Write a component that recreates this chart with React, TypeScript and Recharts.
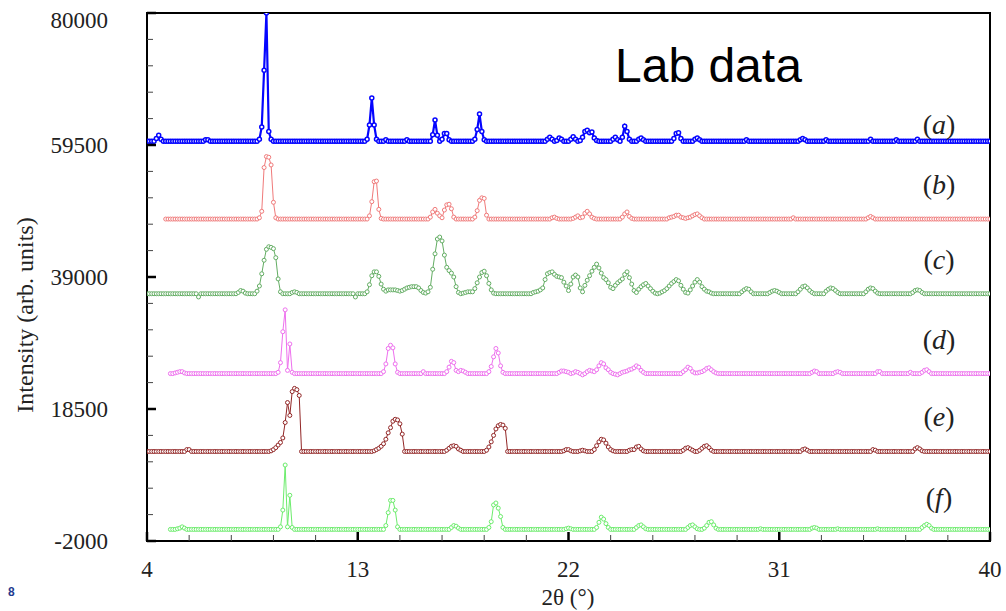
import { LineChart, Line, XAxis, YAxis, ReferenceArea } from "recharts";

const _ = null;

// 2θ scan grid: 4.0° … 40.0° in 0.1° steps
const twoTheta = Array.from({ length: 361 }, (_v, i) => (40 + i) / 10);

const sampleIds = ["a", "b", "c", "d", "e", "f"];

// vertical stacking offset of each pattern (counts)
const stackOffsets = [60100, 48000, 36400, 24000, 11900, -200];

// intensity above background, one row per degree (x.0 … x.9)
const patternA = [
  0, 0, 0, 0, 400, 900, 300, 0, 0, 0, // 4
  0, 0, 0, 0, 0, 0, 0, 0, 0, 0,
  0, 0, 0, 0, 0, 200, 200, 0, 0, 0,
  0, 0, 0, 0, 0, 0, 0, 0, 0, 0,
  0, 0, 0, 0, 0, 0, 0, 0, 300, 2200,
  11000, 19900, 1500, 300, 0, 0, 0, 0, 0, 0, // 9
  0, 0, 0, 0, 0, 0, 0, 0, 0, 0,
  0, 0, 0, 0, 0, 0, 0, 0, 0, 0,
  0, 0, 0, 0, 0, 0, 0, 0, 0, 0,
  0, 0, 0, 0, 300, 2500, 6700, 2500, 300, 0,
  0, 0, 200, 0, 0, 0, 0, 0, 0, 0, // 14
  0, 200, 0, 0, 0, 0, 0, 0, 0, 0,
  0, 0, 1000, 3300, 900, 0, 300, 1200, 1200, 200,
  0, 0, 0, 0, 0, 0, 0, 0, 0, 0,
  300, 1800, 4200, 1500, 200, 0, 0, 0, 0, 0,
  0, 0, 0, 0, 0, 0, 0, 0, 0, 0, // 19
  0, 0, 0, 0, 0, 0, 0, 0, 0, 0,
  0, 300, 600, 300, 0, 100, 500, 300, 0, 0,
  0, 300, 700, 300, 0, 100, 600, 1500, 1700, 1300,
  1400, 500, 100, 0, 0, 0, 0, 0, 0, 300,
  600, 200, 0, 600, 2300, 1500, 300, 0, 0, 0, // 24
  300, 500, 200, 0, 0, 0, 0, 0, 0, 0,
  0, 0, 0, 0, 0, 400, 1200, 1300, 400, 0,
  0, 0, 0, 0, 300, 500, 200, 0, 0, 0,
  0, 0, 0, 0, 0, 0, 0, 0, 0, 0,
  0, 0, 0, 0, 0, 0, 200, 0, 0, 0, // 29
  0, 0, 0, 0, 0, 0, 0, 0, 0, 0,
  0, 0, 0, 0, 0, 0, 0, 0, 0, 200,
  400, 200, 0, 0, 0, 0, 0, 0, 0, 0,
  200, 0, 0, 0, 0, 0, 0, 0, 0, 0,
  0, 0, 0, 0, 0, 0, 0, 0, 0, 300, // 34
  0, 0, 0, 0, 0, 0, 0, 0, 0, 0,
  200, 0, 0, 0, 0, 0, 0, 0, 0, 300,
  0, 0, 0, 0, 0, 0, 0, 0, 0, 0,
  0, 0, 0, 0, 0, 0, 0, 0, 0, 0,
  0, 0, 0, 0, 0, 0, 0, 0, 0, 0, // 39
  0,
];

const patternB = [
  _, _, _, _, _, _, _, _, 0, 0, // 4
  0, 0, 0, 0, 0, 0, 0, 0, 0, 0,
  0, 0, 0, 0, 0, 0, 0, 0, 0, 0,
  0, 0, 0, 0, 0, 0, 0, 0, 0, 0,
  0, 0, 0, 0, 0, 0, 0, 0, 200, 1200,
  8000, 9700, 9600, 8400, 2600, 200, 0, 0, 0, 0, // 9
  0, 0, 0, 0, 0, 0, 0, 0, 0, 0,
  0, 0, 0, 0, 0, 0, 0, 0, 0, 0,
  0, 0, 0, 0, 0, 0, 0, 0, 0, 0,
  0, 0, 0, 0, 0, 500, 2700, 5800, 5900, 1500,
  100, 0, 0, 0, 0, 0, 0, 0, 0, 0, // 14
  0, 0, 0, 0, 0, 0, 0, 0, 0, 0,
  0, 300, 1100, 1500, 900, 500, 200, 1400, 2200, 2300,
  1600, 300, 0, 0, 0, 0, 0, 0, 0, 0,
  300, 1300, 2900, 3300, 3200, 600, 0, 0, 0, 0,
  0, 0, 0, 0, 0, 0, 0, 0, 0, 0, // 19
  0, 0, 0, 0, 0, 0, 0, 0, 0, 0,
  0, 0, 0, 200, 300, 100, 0, 0, 0, 0,
  0, 0, 100, 300, 500, 200, 300, 900, 1200, 800,
  300, 100, 0, 0, 0, 0, 0, 0, 0, 0,
  0, 0, 0, 300, 800, 1100, 400, 100, 0, 0, // 24
  0, 0, 0, 0, 0, 0, 0, 0, 0, 0,
  0, 0, 0, 200, 300, 400, 600, 600, 300, 200,
  100, 200, 300, 500, 700, 800, 500, 200, 0, 0,
  0, 0, 0, 0, 0, 0, 0, 0, 0, 0,
  0, 0, 0, 0, 0, 0, 0, 0, 0, 0, // 29
  0, 0, 0, 0, 0, 0, 0, 0, 0, 0,
  0, 0, 0, 0, 0, 0, 200, 0, 0, 0,
  0, 0, 0, 0, 0, 0, 0, 0, 0, 0,
  0, 0, 0, 0, 0, 0, 0, 0, 0, 0,
  0, 0, 0, 0, 0, 0, 0, 0, 200, 400, // 34
  200, 0, 0, 0, 0, 0, 0, 0, 0, 0,
  0, 0, 0, 0, 0, 0, 0, 0, 0, 0,
  0, 0, 0, 0, 0, 0, 0, 0, 0, 0,
  0, 0, 0, 0, 0, 0, 0, 0, 0, 0,
  0, 0, 0, 0, 0, 0, 0, 0, 0, 0, // 39
  0,
];

const patternC = [
  0, 0, 0, 0, 0, 0, 0, 0, 0, 0, // 4
  0, 0, 0, 0, 0, 0, 0, 0, 0, 0,
  0, 0, -500, 0, 0, 0, 0, 0, 0, 0,
  0, 0, 0, 0, 0, 0, 0, 0, 0, 200,
  500, 400, 100, 0, 0, 0, 0, 400, 1200, 3100,
  5200, 6900, 7300, 7200, 7000, 5600, 2300, 300, 0, 0, // 9
  0, 0, 200, 300, 200, 0, 0, 0, 0, 0,
  0, 0, 0, 0, 0, 0, 0, 0, 0, 0,
  0, 0, 0, 0, 0, 0, 0, 0, 0, -500,
  0, 0, 0, 0, 300, 1400, 2800, 3400, 3400, 2700,
  1500, 700, 400, 600, 600, 600, 600, 500, 400, 500, // 14
  700, 900, 1000, 1100, 1100, 1100, 900, 500, 200, 100,
  300, 1000, 3800, 6200, 8500, 8800, 8200, 6000, 4100, 3600,
  3200, 2600, 1100, 200, 0, 100, 200, 300, 300, 300,
  800, 1700, 2600, 3300, 3500, 2800, 1600, 600, 100, 0,
  0, 0, 0, 0, 0, 0, 0, 0, 0, 0, // 19
  0, 0, 0, 0, 0, 200, 300, 400, 600, 900,
  2200, 3100, 3300, 3400, 3000, 2700, 2600, 2500, 1800, 1200,
  500, 1500, 2600, 2900, 2600, 900, 300, 1300, 2100, 2800,
  3500, 4100, 4600, 4000, 3200, 2500, 2200, 1700, 1000, 800,
  1300, 1700, 2000, 2300, 3000, 3400, 2500, 1500, 500, 200, // 24
  700, 1100, 1400, 1600, 1200, 800, 400, 100, 0, 100,
  300, 500, 800, 1200, 1600, 1900, 2200, 2000, 1300, 700,
  200, 100, 600, 1200, 1800, 2200, 1800, 1100, 700, 400,
  300, 100, 0, 0, 0, 0, 0, 0, 0, 0,
  0, 0, 0, 0, 300, 600, 800, 700, 300, 0, // 29
  0, 0, 0, 0, 0, 0, 200, 400, 500, 400,
  200, 0, 0, 0, 0, 0, 0, 0, 300, 700,
  1100, 1200, 900, 500, 200, 0, 0, 0, 0, 0,
  400, 700, 900, 800, 500, 200, 0, 0, 0, 0,
  0, 0, 0, 0, 0, 0, 0, 300, 700, 900, // 34
  800, 400, 100, 0, 0, 0, 0, 0, 0, 0,
  0, 0, 0, 0, 0, 0, 0, 200, 500, 600,
  500, 200, 0, 0, 0, 0, 0, 0, 0, 0,
  0, 0, 0, 0, 0, 0, 0, 0, 0, 0,
  0, 0, 0, 0, 0, 0, 0, 0, 0, 0, // 39
  0,
];

const patternD = [
  _, _, _, _, _, _, _, _, _, _, // 4
  0, 0, 100, 200, 300, 300, 100, 0, 0, 0,
  0, 0, 0, 0, 0, 0, 0, 0, 0, 0,
  0, 0, 0, 0, 0, 0, 0, 0, 0, 0,
  0, 0, 0, 0, 0, 0, 0, 0, 0, 0,
  0, 0, 0, 0, 0, 0, 200, 1700, 6500, 9900, // 9
  500, 4600, 200, 0, 0, 0, 0, 0, 0, 0,
  0, 0, 0, 0, 0, 0, 0, 0, 0, 0,
  0, 0, 0, 0, 0, 0, 0, 0, 0, 0,
  0, 0, 0, 0, 0, 0, 0, 0, 0, 0,
  0, 300, 1500, 3900, 4400, 4000, 1500, 200, 0, 0, // 14
  0, 0, 0, 0, 0, 0, 0, 0, 300, 0,
  0, 0, 0, 0, 0, 0, 0, 0, 300, 1000,
  1900, 1700, 500, 300, 500, 400, 200, 0, 0, 0,
  0, 0, 0, 0, 0, 0, 300, 1100, 2600, 3900,
  3200, 1200, 200, 0, 0, 0, 0, 0, 0, 0, // 19
  0, 0, 0, 0, 0, 0, 0, 0, 0, 0,
  0, 0, 0, 0, 0, 0, 200, 400, 400, 300,
  200, 0, 100, 300, 200, 0, -200, 0, 300, 500,
  400, 300, 600, 1200, 1700, 1500, 900, 600, 200, 0,
  -100, -200, 0, 200, 300, 400, 600, 700, 900, 1200, // 24
  1000, 500, 200, 0, 0, 0, 0, 0, 0, 0,
  0, 0, 0, 0, 0, 0, 0, 0, 0, 300,
  600, 1000, 800, 300, 100, 100, 200, 300, 500, 800,
  900, 600, 300, 100, 0, 0, 0, 0, 0, 0,
  0, 0, 0, 0, 0, 0, 0, 0, 0, 0, // 29
  0, 0, 0, 0, 0, 0, 0, 0, 0, 0,
  0, 0, 0, 0, 0, 0, 0, 0, 0, 0,
  0, 0, 0, 0, 200, 400, 300, 0, 0, 0,
  0, 0, 0, 0, 200, 300, 200, 0, 0, 0,
  0, 0, 0, 0, 0, 0, 0, 0, 0, 0, // 34
  0, 0, 300, 300, 0, 0, 0, 0, 0, 0,
  0, 0, 0, 0, 0, 0, 200, 0, 0, 0,
  0, 200, 500, 600, 300, 0, 0, 0, 0, 0,
  0, 0, 0, 0, 0, 0, 0, 0, 0, 0,
  0, 0, 0, 0, 0, 0, 0, 0, 0, 0, // 39
  0,
];

const patternE = [
  0, 0, 0, 0, 0, 0, 0, 0, 0, 0, // 4
  0, 0, 0, 0, 0, 0, 0, 300, 300, 0,
  0, 0, 0, 0, 0, 0, 0, 0, 0, 0,
  0, 0, 0, 0, 0, 0, 0, 0, 0, 0,
  0, 0, 0, 0, 0, 0, 0, 0, 0, 0,
  0, 0, 0, 100, 300, 600, 1000, 1400, 2100, 4500, // 9
  7600, 5600, 9300, 9800, 9600, 8700, 0, 0, 0, 0,
  0, 0, 0, 0, 0, 0, 0, 0, 0, 0,
  0, 0, 0, 0, 0, 0, 0, 0, 0, 0,
  0, 0, 0, 0, 0, 0, 0, 100, 300, 500,
  800, 1200, 1900, 2900, 3700, 4700, 5000, 4900, 4300, 2700, // 14
  0, 0, 0, 0, 0, 0, 0, 0, 0, 0,
  0, 0, 0, 0, 0, 0, 0, 0, 200, 500,
  800, 900, 800, 400, 200, 0, 0, 0, 0, 0,
  0, 0, 0, 0, 0, 200, 700, 1500, 2500, 3500,
  4000, 4200, 4100, 3600, 0, 0, 0, 0, 0, 0, // 19
  0, 0, 0, 0, 0, 0, 0, 0, 0, 0,
  0, 0, 0, 0, 0, 0, 0, 0, 100, 300,
  300, 100, 0, 0, 0, 100, 200, 100, 0, 0,
  0, 300, 900, 1500, 1900, 1800, 1300, 700, 300, 100,
  0, 0, 0, 0, 0, 0, 200, 300, 300, 700, // 24
  800, 400, 100, 0, 0, 0, 0, 0, 0, 0,
  0, 0, 0, 0, 0, 0, 0, 0, 0, 200,
  500, 600, 400, 200, 0, 0, 200, 500, 800, 900,
  600, 200, 0, 0, 0, 0, 0, 0, 0, 0,
  0, 0, 0, 0, 0, 0, 0, 0, 0, 0, // 29
  0, 0, 0, 0, 0, 0, 0, 0, 0, 0,
  0, 0, 0, 0, 0, 0, 0, 0, 0, 0,
  300, 400, 200, 0, 0, 0, 0, 0, 0, 0,
  0, 0, 0, 0, 0, 0, 0, 0, 0, 0,
  0, 0, 0, 0, 0, 0, 0, 0, 0, 0, // 34
  300, 200, 0, 0, 0, 0, 0, 0, 0, 0,
  0, 0, 0, 0, 0, 0, 0, 0, 400, 600,
  400, 100, 0, 0, 0, 0, 0, 0, 0, 0,
  0, 0, 0, 0, 0, 0, 0, 0, 0, 0,
  0, 0, 0, 0, 0, 0, 0, 0, 0, 0, // 39
  0,
];

const patternF = [
  _, _, _, _, _, _, _, _, _, _, // 4
  0, 0, 0, 100, 200, 400, 200, 0, 0, 0,
  0, 0, 0, 0, 0, 0, 0, 0, 0, 0,
  0, 0, 0, 0, 0, 0, 0, 0, 0, 0,
  0, 0, 0, 0, 0, 0, 0, 0, 0, 0,
  0, 0, 0, 0, 0, 0, 0, 400, 3000, 10000, // 9
  400, 5300, 300, 0, 0, 0, 0, 0, 0, 0,
  0, 0, 0, 0, 0, 0, 0, 0, 0, 0,
  0, 0, 0, 0, 0, 0, 0, 0, 0, 0,
  0, 0, 0, 0, 0, 0, 0, 0, 0, 0,
  0, 0, 600, 2600, 4500, 4500, 3000, 400, 0, 0, // 14
  0, 0, 0, 0, 0, 0, 0, 0, 0, 0,
  0, 0, 0, 0, 0, 0, 0, 0, 0, 0,
  300, 600, 500, 200, 0, 0, 0, 0, 0, 0,
  0, 0, 0, 0, 0, 0, 300, 1200, 3800, 4100,
  3300, 2000, 300, 0, 0, 0, 0, 0, 0, 0, // 19
  0, 0, 0, 0, 0, 0, 0, 0, 0, 0,
  0, 0, 0, 0, 0, 0, 0, 0, 0, 100,
  200, 100, 0, 0, 0, 0, 0, 0, 0, 0,
  0, 0, 300, 1100, 1900, 1600, 900, 300, 0, 0,
  0, 0, 0, 0, 0, 0, 0, 0, 0, 300, // 24
  600, 700, 400, 100, 0, 0, 0, 0, 0, 0,
  0, 0, 0, 0, 0, 0, 0, 0, 0, 0,
  0, 300, 600, 700, 400, 100, 0, 0, 200, 600,
  1100, 1200, 700, 200, 0, 0, 0, 0, 0, 0,
  0, 0, 0, 0, 0, 0, 0, 0, 0, 0, // 29
  0, 0, 100, 0, 0, 0, 0, 0, 0, 0,
  0, 0, 0, 0, 0, 0, 0, 0, 0, 0,
  0, 0, 0, 0, 200, 300, 200, 0, 0, 0,
  0, 0, 0, 0, 0, 100, 0, 0, 0, 0,
  0, 0, 0, 0, 0, 0, 0, 0, 0, 0, // 34
  0, 0, 100, 0, 0, 0, 0, 0, 0, 0,
  0, 0, 0, 0, 0, 0, 0, 0, 0, 0,
  0, 300, 600, 800, 600, 200, 0, 0, 0, 0,
  0, 0, 0, 0, 0, 0, 0, 0, 0, 0,
  0, 0, 0, 0, 0, 0, 0, 0, 0, 0, // 39
  0,
];

const xMajorTicks = [4, 13, 22, 31, 40];
const yMajorTicks = [-2000, 18500, 39000, 59500, 80000];

const patterns = [patternA, patternB, patternC, patternD, patternE, patternF];
const colors = ["#0505ff", "#f07a7a", "#63ad63", "#ee70ee", "#922626", "#6cec6c"];
const tagBaselines = [134, 194, 269, 349, 426, 507];

const SERIF = "'Liberation Serif', 'Times New Roman', serif";

// five minor divisions between major ticks
function withMinor(major: number[], parts = 5) {
  const out: number[] = [];
  for (let i = 0; i < major.length - 1; i++) {
    const step = (major[i + 1] - major[i]) / parts;
    for (let k = 0; k < parts; k++) out.push(+(major[i] + k * step).toFixed(3));
  }
  out.push(major[major.length - 1]);
  return out;
}

const xTicks = withMinor(xMajorTicks);
const yTicks = withMinor(yMajorTicks);

const rows = twoTheta.map((tt, i) => {
  const row: Record<string, number | null> = { tt };
  sampleIds.forEach((id, s) => {
    const v = patterns[s][i];
    row[id] = v == null ? null : v + stackOffsets[s];
  });
  return row;
});

const MAJOR_LEN = 9;
const MINOR_LEN = 6;

function tickStyle(major: boolean) {
  return {
    stroke: major ? "#000" : "#444",
    strokeWidth: major ? 2.5 : 1,
  };
}

function BottomTick(p: any) {
  const major = xMajorTicks.includes(p.payload.value);
  return (
    <g>
      <line x1={p.x} x2={p.x} y1={p.y} y2={p.y - (major ? MAJOR_LEN : MINOR_LEN)} {...tickStyle(major)} />
      {major && (
        <text x={p.x} y={p.y + 36} textAnchor="middle" fontFamily={SERIF} fontSize={23} fill="#222">
          {p.payload.value}
        </text>
      )}
    </g>
  );
}

function TopTick(p: any) {
  const major = xMajorTicks.includes(p.payload.value);
  return <line x1={p.x} x2={p.x} y1={p.y} y2={p.y + (major ? MAJOR_LEN : MINOR_LEN)} {...tickStyle(major)} />;
}

function LeftTick(p: any) {
  const v = p.payload.value;
  const major = yMajorTicks.includes(v);
  const dy = v === yMajorTicks[yMajorTicks.length - 1] ? 15 : 8;
  return (
    <g>
      <line x1={p.x} x2={p.x + (major ? MAJOR_LEN : MINOR_LEN)} y1={p.y} y2={p.y} {...tickStyle(major)} />
      {major && (
        <text x={p.x - 39} y={p.y + dy} textAnchor="end" fontFamily={SERIF} fontSize={23} fill="#222">
          {v}
        </text>
      )}
    </g>
  );
}

function RightTick(p: any) {
  const major = yMajorTicks.includes(p.payload.value);
  return <line x1={p.x} x2={p.x - (major ? MAJOR_LEN : MINOR_LEN)} y1={p.y} y2={p.y} {...tickStyle(major)} />;
}

const W = 1006;
const H = 611;

export default function App() {
  return (
    <div style={{ position: "absolute", left: 0, top: 0, width: W, height: H, background: "#fff" }}>
      <LineChart width={W} height={H} data={rows} margin={{ top: 13, right: 16, bottom: 0, left: 0 }}>
        <XAxis
          xAxisId="bottom"
          dataKey="tt"
          type="number"
          domain={[4, 40]}
          ticks={xTicks}
          interval={0}
          allowDataOverflow
          height={70}
          axisLine={false}
          tickLine={false}
          tickSize={0}
          tickMargin={0}
          tick={(p: any) => <BottomTick {...p} />}
        />
        <XAxis
          xAxisId="top"
          orientation="top"
          dataKey="tt"
          type="number"
          domain={[4, 40]}
          ticks={xTicks}
          interval={0}
          allowDataOverflow
          height={0}
          axisLine={false}
          tickLine={false}
          tickSize={0}
          tickMargin={0}
          tick={(p: any) => <TopTick {...p} />}
        />
        <YAxis
          yAxisId="left"
          type="number"
          domain={[-2000, 80000]}
          ticks={yTicks}
          interval={0}
          allowDataOverflow
          width={147}
          axisLine={false}
          tickLine={false}
          tickSize={0}
          tickMargin={0}
          tick={(p: any) => <LeftTick {...p} />}
        />
        <YAxis
          yAxisId="right"
          orientation="right"
          type="number"
          domain={[-2000, 80000]}
          ticks={yTicks}
          interval={0}
          allowDataOverflow
          width={0}
          axisLine={false}
          tickLine={false}
          tickSize={0}
          tickMargin={0}
          tick={(p: any) => <RightTick {...p} />}
        />
        {sampleIds.map((id, s) => (
          <Line
            key={id}
            xAxisId="bottom"
            yAxisId="left"
            dataKey={id}
            type="linear"
            stroke={colors[s]}
            strokeWidth={s === 0 ? 2.2 : 1}
            dot={{ r: 2, strokeWidth: s === 0 ? 1.5 : 1, stroke: colors[s], fill: "#fff" }}
            activeDot={false}
            isAnimationActive={false}
          />
        ))}
        <ReferenceArea
          xAxisId="bottom"
          yAxisId="left"
          x1={4}
          x2={40}
          y1={-2000}
          y2={80000}
          fill="none"
          stroke="#000"
          strokeWidth={2}
        />
      </LineChart>
      <svg width={W} height={H} style={{ position: "absolute", left: 0, top: 0, pointerEvents: "none" }}>
        <text x={615} y={82} fontFamily="'Liberation Sans', Arial, sans-serif" fontSize={48} fill="#000">
          Lab data
        </text>
        {sampleIds.map((id, s) => (
          <text key={id} x={939} y={tagBaselines[s]} textAnchor="middle" fontFamily={SERIF} fontSize={28} fill="#222">
            (<tspan fontStyle="italic">{id}</tspan>)
          </text>
        ))}
        <text transform="translate(33 315) rotate(-90)" textAnchor="middle" fontFamily={SERIF} fontSize={24} fill="#222">
          Intensity (arb. units)
        </text>
        <text x={568} y={605} textAnchor="middle" fontFamily={SERIF} fontSize={23} fill="#222">
          2θ (°)
        </text>
        <text x={8} y={596} fontFamily="'Liberation Sans', Arial, sans-serif" fontSize={12} fontWeight="bold" fill="#1f3b8f">
          8
        </text>
      </svg>
    </div>
  );
}
